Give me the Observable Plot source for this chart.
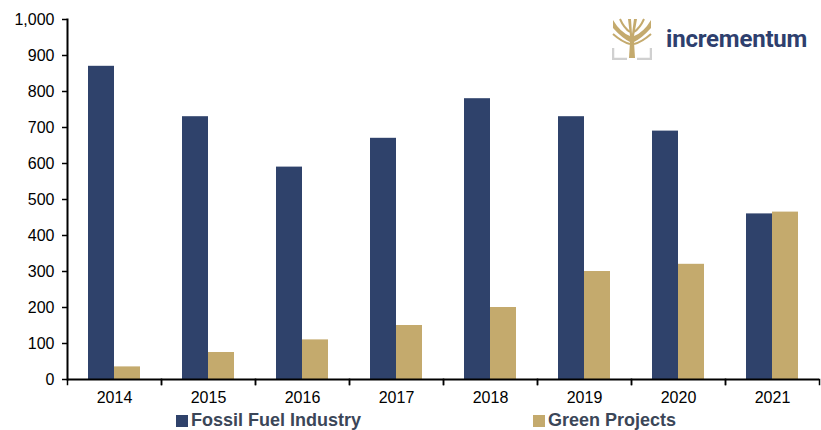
<!DOCTYPE html>
<html><head><meta charset="utf-8">
<script src="https://cdn.jsdelivr.net/npm/d3@7"></script>
<script src="https://cdn.jsdelivr.net/npm/@observablehq/plot@0.6"></script>
<style>
body{margin:0;background:#fff;font-family:"Liberation Sans",Arial,sans-serif;}
#wrap{position:relative;width:821px;height:430px;}
.leg{position:absolute;top:410px;font-weight:bold;font-size:18px;color:#3b4658;display:flex;align-items:center;white-space:nowrap;}
.leg span.sw{display:inline-block;width:12px;height:12px;margin-right:3px;margin-top:1px;}
#logo{position:absolute;left:612px;top:18px;display:flex;align-items:center;}
#logo .txt{font-family:Roboto,"Liberation Sans",sans-serif;font-weight:bold;font-size:24px;color:#2e3f6e;margin-left:14px;letter-spacing:-0.2px;}
</style></head>
<body><div id="wrap"></div>
<script>
const years = ["2014","2015","2016","2017","2018","2019","2020","2021"];
const seriesNames = ["Fossil Fuel Industry","Green Projects"];
const fossil = [870,730,590,670,780,730,690,460];
const green = [35,75,110,150,200,300,320,465];
const yTicks = [0,100,200,300,400,500,600,700,800,900,1000];
const colors = ["#2f426b","#c4aa6d"];

const data = [];
years.forEach((y,i)=>{
  data.push({year:y, series:seriesNames[0], value:fossil[i]});
  data.push({year:y, series:seriesNames[1], value:green[i]});
});

const W = 821, H = 405, mT = 19, mB = 26;
const plot = Plot.plot({
  width: W, height: H,
  marginLeft: 65, marginRight: 1, marginTop: mT, marginBottom: mB,
  style: {fontFamily: '"Liberation Sans", Arial, sans-serif', fontSize: "16px", color: "#000"},
  fx: {domain: years, padding: 0, label: null},
  x: {domain: seriesNames, paddingInner: 0, paddingOuter: 0.75, axis: null},
  y: {domain: [0,1000], label: null},
  color: {domain: seriesNames, range: colors},
  marks: [
    Plot.barY(data, {fx:"year", x:"series", y:"value", fill:"series"}),
    Plot.axisY({ticks: yTicks, tickFormat: d3.format(","), tickSize: 5, tickPadding: 8, label: null, strokeWidth: 1.5, fontSize: 16}),
    Plot.frame({anchor: "left", fx: [years[0]], stroke: "#000", strokeWidth: 2}),
    Plot.ruleY([0], {stroke: "#000", strokeWidth: 2}),
    Plot.frame({anchor: "left", insetTop: H - mT - mB, insetBottom: -5, stroke: "#000", strokeWidth: 1.5}),
    Plot.frame({anchor: "right", insetTop: H - mT - mB, insetBottom: -5, stroke: "#000", strokeWidth: 1.5}),
    Plot.axisFx({anchor: "bottom", tickSize: 0, tickPadding: 12, label: null, fontSize: 16})
  ]
});
d3.select(plot).selectAll("text").attr("font-size", null).style("font-size", "16px");
const wrap = document.getElementById("wrap");
wrap.appendChild(plot);

const legPos = [176, 533];
seriesNames.forEach((s,i)=>{
  const d = document.createElement("div");
  d.className = "leg";
  d.style.left = legPos[i] + "px";
  d.innerHTML = `<span class="sw" style="background:${colors[i]}"></span>${s}`;
  wrap.appendChild(d);
});

const logo = document.createElement("div");
logo.id = "logo";
logo.innerHTML = `<svg width="40" height="42" viewBox="0 0 40 42">
  <path d="M1 30 V41 H15 M25 41 H39 V30" fill="none" stroke="#d0d0d0" stroke-width="2.5"/>
  <path d="M17 40 L18 24 Q10 20 1 10 L1 2 Q8 14 18 18 L16 1 H19 L20 16 L22 1 H25 L22 18 Q32 14 39 2 L39 10 Q30 20 22 24 L23 40 Z" fill="#c4aa6d"/>
  <path d="M1 16 Q10 24 18 26 M39 16 Q30 24 22 26 M8 1 Q12 10 18 14 M32 1 Q28 10 22 14" fill="none" stroke="#c4aa6d" stroke-width="2"/>
</svg><span class="txt">incrementum</span>`;
wrap.appendChild(logo);
</script>
</body></html>
